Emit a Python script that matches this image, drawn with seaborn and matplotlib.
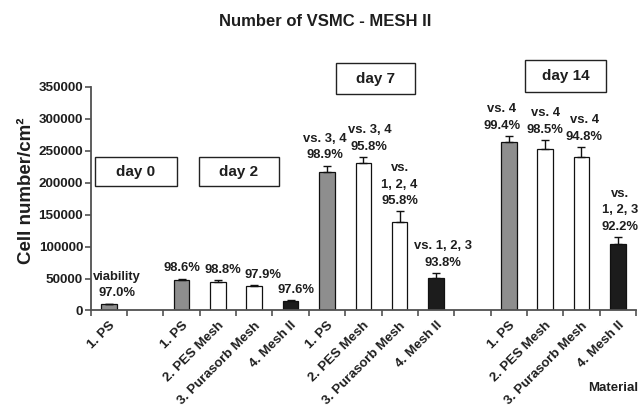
import matplotlib
matplotlib.use("Agg")
import matplotlib.pyplot as plt
from matplotlib.patches import Rectangle
from matplotlib.transforms import ScaledTranslation
import seaborn as sns
import pandas as pd

# ---- data ----
slot_order = [f"s{i}" for i in range(15)]
bar_slots = [0, 2, 3, 4, 5, 6, 7, 8, 9, 11, 12, 13, 14]
materials = ["1. PS",
             "1. PS", "2. PES Mesh", "3. Purasorb Mesh", "4. Mesh II",
             "1. PS", "2. PES Mesh", "3. Purasorb Mesh", "4. Mesh II",
             "1. PS", "2. PES Mesh", "3. Purasorb Mesh", "4. Mesh II"]
cell_means = [10000,
              47000, 45000, 38000, 15500,
              217000, 230000, 138000, 51000,
              264000, 253000, 240000, 104000]
cell_err = [700,
            2800, 3000, 1600, 1000,
            9500, 10000, 17000, 8000,
            9000, 14000, 16000, 11000]
annotations = ["viability\n97.0%",
               "98.6%", "98.8%", "97.9%", "97.6%",
               "vs. 3, 4\n98.9%", "vs. 3, 4\n95.8%", "vs.\n1, 2, 4\n95.8%", "vs. 1, 2, 3\n93.8%",
               "vs. 4\n99.4%", "vs. 4\n98.5%", "vs. 4\n94.8%", "vs.\n1, 2, 3\n92.2%"]
day_names = ["day 0", "day 2", "day 7", "day 14"]
yticks = [0, 50000, 100000, 150000, 200000, 250000, 300000, 350000]

# ---- layout / style ----
annot_dx_px = [8, 0, 5, 9, 5, -2, 6, 0, 7, -7, 0, 3, 2]
palette = {"1. PS": "#8e8e8e", "2. PES Mesh": "#ffffff",
           "3. Purasorb Mesh": "#ffffff", "4. Mesh II": "#1c1c1c"}

df = pd.DataFrame({"slot": [f"s{i}" for i in bar_slots],
                   "material": materials,
                   "cells": cell_means})

sns.set_style("ticks")
plt.rcParams["font.family"] = ["Liberation Sans", "DejaVu Sans"]
plt.rcParams["font.weight"] = "bold"

fig = plt.figure(figsize=(6.4, 4.08), dpi=100)
ax = fig.add_axes([0.1417, 0.2390, 0.8520, 0.5485])

sns.barplot(data=df, x="slot", y="cells", hue="material", order=slot_order,
            palette=palette, dodge=False, width=0.43, edgecolor="#111111",
            linewidth=0.9, legend=False, ax=ax, errorbar=None)

ax.errorbar(bar_slots, cell_means, yerr=[[0] * len(cell_err), cell_err],
            fmt="none", ecolor="#111111", elinewidth=1.0, capsize=3.2,
            capthick=1.0, zorder=1)

for s, m, e, t, dx in zip(bar_slots, cell_means, cell_err, annotations, annot_dx_px):
    ax.annotate(t, xy=(s, m + e), xytext=(dx * 0.72, 3), textcoords="offset points",
                ha="center", va="bottom", fontsize=9.4, fontweight="bold",
                linespacing=1.5, multialignment="center", color="#1e1e1e",
                annotation_clip=False)

# day boxes (layout: x0, x1, y0, y1 in data coords)
box_layout = [(-0.38, 1.87, 194500, 240000), (2.48, 4.68, 194500, 240000),
              (6.25, 8.42, 338500, 387000), (11.45, 13.68, 341700, 391900)]
for name, (x0, x1, y0, y1) in zip(day_names, box_layout):
    ax.add_patch(Rectangle((x0, y0), x1 - x0, y1 - y0, facecolor="white",
                           edgecolor="#222222", linewidth=1.0, clip_on=False,
                           zorder=3))
    ax.text((x0 + x1) / 2, (y0 + y1) / 2, name, ha="center", va="center",
            fontsize=11, fontweight="bold", color="#1e1e1e", zorder=4)

ax.set_xlim(-0.5, 14.5)
ax.set_ylim(0, 350000)
ax.set_yticks(yticks)
ax.set_yticklabels([str(v) for v in yticks], fontsize=9.7, fontweight="bold",
                   color="#1e1e1e")

labels = [""] * 15
for s, m in zip(bar_slots, materials):
    labels[s] = m
ax.set_xticks(range(15))
ax.set_xticklabels(labels, rotation=45, ha="right", va="top",
                   rotation_mode="anchor", fontsize=9.6, fontweight="bold",
                   color="#1e1e1e")
shift = ScaledTranslation(-0.085, 0, fig.dpi_scale_trans)
for lab in ax.get_xticklabels():
    lab.set_transform(lab.get_transform() + shift)
ax.set_xticks([i - 0.5 for i in range(16)], minor=True)
ax.tick_params(axis="x", which="major", length=0, pad=6.5)
ax.tick_params(axis="x", which="minor", length=4, width=1.1, color="#444444",
               direction="out")
ax.tick_params(axis="y", length=4, width=1.1, color="#444444", pad=1.5)

ax.set_xlabel("")
ax.set_ylabel("")
for side in ["top", "right"]:
    ax.spines[side].set_visible(False)
for side in ["left", "bottom"]:
    ax.spines[side].set_color("#505050")
    ax.spines[side].set_linewidth(1.3)

fig.text(0.508, 0.948, "Number of VSMC - MESH II", ha="center", va="center",
         fontsize=12, fontweight="bold", color="#1e1e1e")
fig.text(0.041, 0.532, "Cell number/cm²", ha="center", va="center",
         rotation=90, fontsize=13.5, fontweight="bold", color="#1e1e1e")
fig.text(0.998, 0.049, "Material", ha="right", va="center",
         fontsize=9.5, fontweight="bold", color="#1e1e1e")

fig.savefig("out.png", dpi=100)
